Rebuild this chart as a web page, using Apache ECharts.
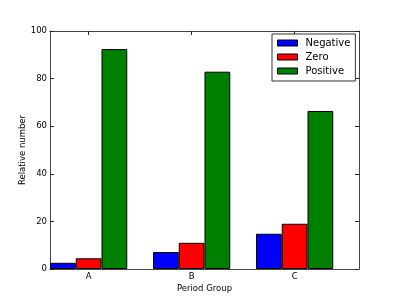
<!DOCTYPE html>
<html><head><meta charset="utf-8">
<script src="https://cdn.jsdelivr.net/npm/echarts@6/dist/echarts.min.js"></script>
<style>html,body{margin:0;padding:0;background:#fff}#c{width:399px;height:299px}</style>
</head><body><div id="c"></div>
<script>
var categories = ['A', 'B', 'C'];
var seriesNames = ['Negative', 'Zero', 'Positive'];
var negative = [2.6, 7.1, 14.8];
var zero = [4.5, 11.0, 19.0];
var positive = [92.4, 82.9, 66.4];
var yTicks = [0, 20, 40, 60, 80, 100];
var colors = ['#0000ff', '#ff0000', '#008000'];
var barWidthUnits = 0.25;

var chart = echarts.init(document.getElementById('c'), null, {renderer: 'canvas'});
var font = 'DejaVu Sans';
var axisFont = 8.5;
var values = [negative, zero, positive];
// bars: group i occupies [i, i+0.75]; tick at i + 0.375
var series = values.map(function (vals, s) {
  return {
    name: seriesNames[s],
    type: 'bar',
    xAxisIndex: 0, yAxisIndex: 0,
    barWidth: 103 * barWidthUnits,
    barGap: '-100%',
    itemStyle: {color: colors[s], borderColor: '#000', borderWidth: 1},
    data: vals.map(function (v, i) { return [i + barWidthUnits * (s + 0.5), v]; })
  };
});
// fine category grid (step 0.125) used only for tick marks and labels
var fine = [];
for (var k = 0; k <= 24; k++) fine.push('');
categories.forEach(function (c, i) { fine[i * 8 + 3] = c; });
function isTick(index) { return index % 8 === 3; }

var lineStyle = {color: '#444', width: 1};
var tickStyle = {show: true, inside: true, length: 4, lineStyle: {color: '#222'}};
var yCommon = {
  type: 'value', min: yTicks[0], max: yTicks[yTicks.length - 1], interval: 20,
  axisLine: {show: true, onZero: false, lineStyle: lineStyle},
  axisTick: tickStyle,
  splitLine: {show: false}
};
chart.setOption({
  animation: false,
  backgroundColor: '#fff',
  textStyle: {fontFamily: font},
  grid: {left: 50, right: 40, top: 31, bottom: 30},
  legend: {
    orient: 'vertical', left: 272, top: 34,
    data: seriesNames,
    itemWidth: 20, itemHeight: 6, itemGap: 0,
    padding: [2, 5, 3, 5],
    borderColor: '#333', borderWidth: 1, backgroundColor: '#fff',
    icon: 'rect',
    textStyle: {fontFamily: font, fontSize: 10, color: '#000', lineHeight: 14, padding: [0, 0, 0, 3]},
    itemStyle: {borderColor: '#000', borderWidth: 1}
  },
  xAxis: [
    {type: 'value', min: 0, max: 3, show: false, splitLine: {show: false}},
    {
      type: 'category', data: fine, boundaryGap: false, position: 'bottom',
      axisLine: {show: true, onZero: false, lineStyle: lineStyle},
      axisTick: Object.assign({}, tickStyle, {interval: isTick}),
      axisLabel: {show: true, interval: isTick, fontFamily: font, fontSize: axisFont, color: '#000', margin: 3},
      splitLine: {show: false},
      name: 'Period Group', nameLocation: 'middle', nameGap: 15, nameMoveOverlap: false,
      nameTextStyle: {fontFamily: font, fontSize: axisFont, color: '#000'}
    },
    {
      type: 'category', data: fine, boundaryGap: false, position: 'top',
      axisLine: {show: true, onZero: false, lineStyle: lineStyle},
      axisTick: Object.assign({}, tickStyle, {interval: isTick}),
      axisLabel: {show: false},
      splitLine: {show: false}
    }
  ],
  yAxis: [
    Object.assign({}, yCommon, {
      position: 'left',
      name: 'Relative number', nameLocation: 'middle', nameGap: 23, nameMoveOverlap: false,
      nameTextStyle: {fontFamily: font, fontSize: axisFont, color: '#000'},
      axisLabel: {show: true, fontFamily: font, fontSize: axisFont, color: '#000', margin: 3}
    }),
    Object.assign({}, yCommon, {position: 'right', axisLabel: {show: false}})
  ],
  series: series
});
</script></body></html>
